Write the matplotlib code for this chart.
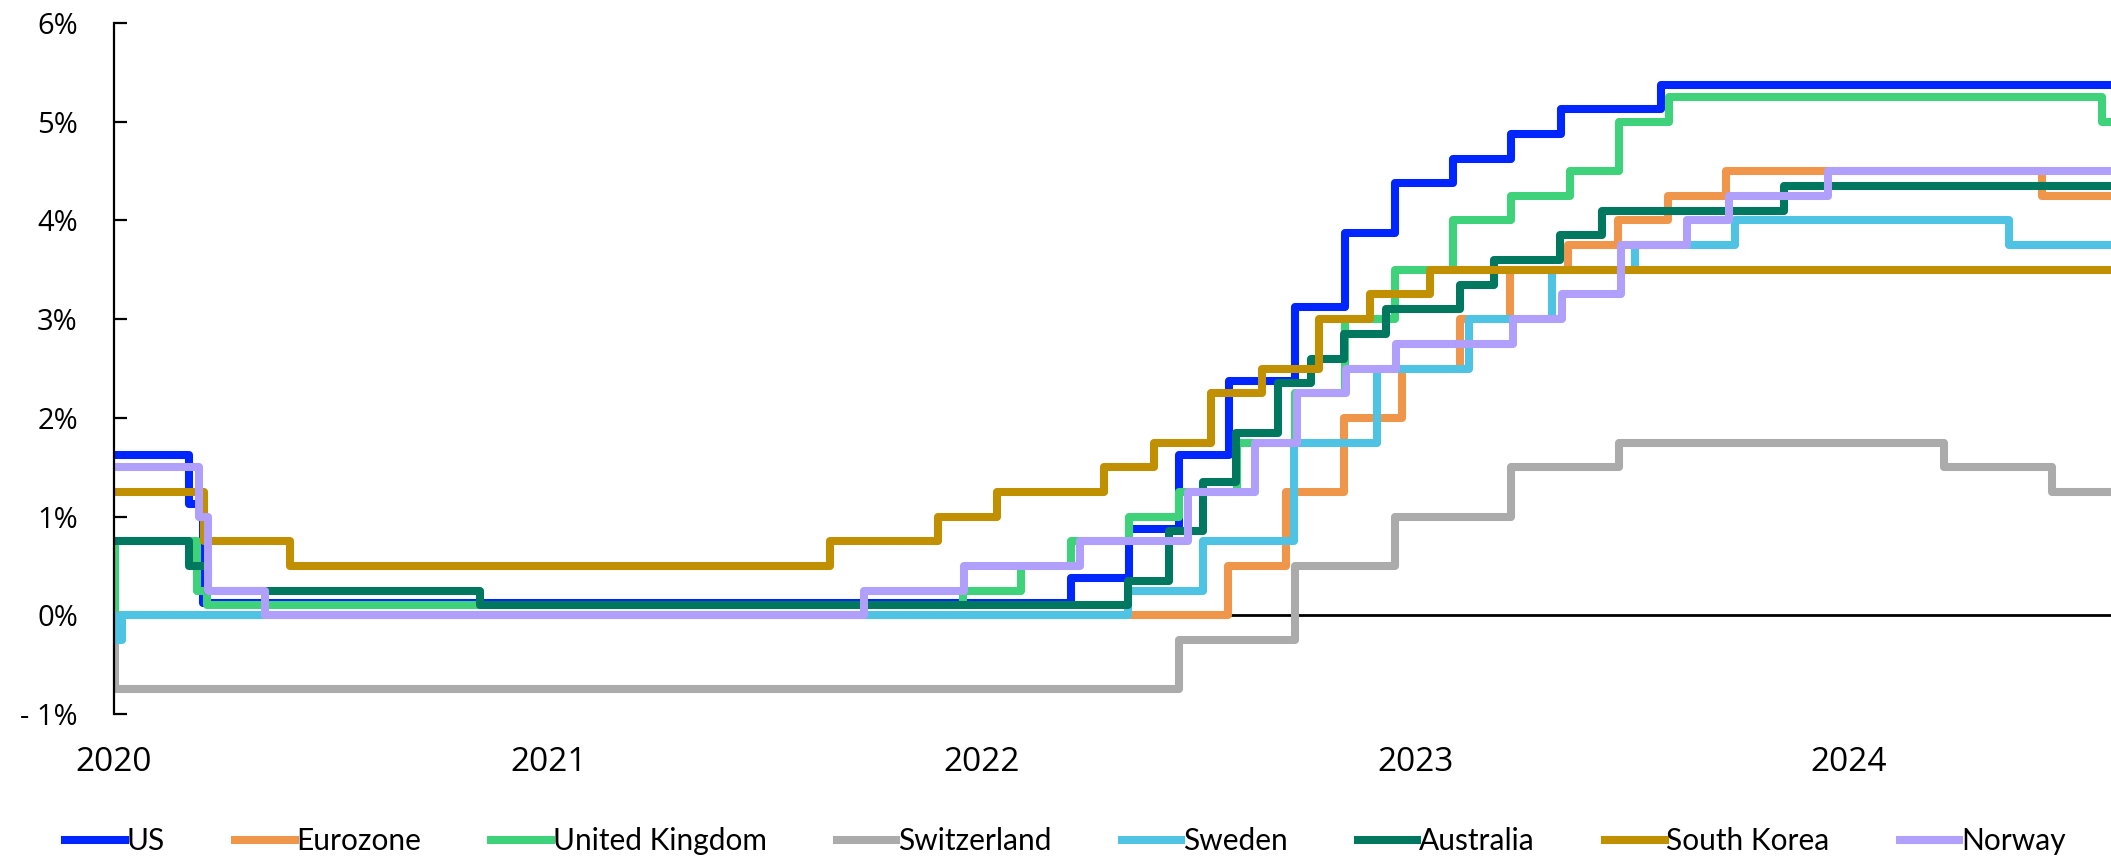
import matplotlib
matplotlib.use("Agg")
import matplotlib.pyplot as plt
from matplotlib.ticker import FuncFormatter, FixedLocator
import numpy as np
import pandas as pd

# Policy rates (%) at each change date; each rate holds until the next date
us_dates = ["2020-01-01", "2020-03-04", "2020-03-16", "2022-03-17", "2022-05-05",
            "2022-06-16", "2022-07-28", "2022-09-22", "2022-11-03", "2022-12-15",
            "2023-02-02", "2023-03-23", "2023-05-04", "2023-07-27"]
us_rates = [1.625, 1.125, 0.125, 0.375, 0.875, 1.625, 2.375, 3.125, 3.875, 4.375,
            4.625, 4.875, 5.125, 5.375]

ez_dates = ["2020-01-01", "2022-07-27", "2022-09-14", "2022-11-02", "2022-12-21",
            "2023-02-08", "2023-03-22", "2023-05-10", "2023-06-21", "2023-08-02",
            "2023-09-20", "2024-06-12"]
ez_rates = [0.0, 0.5, 1.25, 2.0, 2.5, 3.0, 3.5, 3.75, 4.0, 4.25, 4.5, 4.25]

uk_dates = ["2020-01-01", "2020-01-02", "2020-03-11", "2020-03-19", "2021-12-16",
            "2022-02-03", "2022-03-17", "2022-05-05", "2022-06-16", "2022-08-04",
            "2022-09-22", "2022-11-03", "2022-12-15", "2023-02-02", "2023-03-23",
            "2023-05-11", "2023-06-22", "2023-08-03", "2024-08-01"]
uk_rates = [0.0, 0.75, 0.25, 0.10, 0.25, 0.5, 0.75, 1.0, 1.25, 1.75, 2.25, 3.0, 3.5,
            4.0, 4.25, 4.5, 5.0, 5.25, 5.0]

ch_dates = ["2020-01-01", "2020-01-02", "2022-06-16", "2022-09-22", "2022-12-15",
            "2023-03-23", "2023-06-22", "2024-03-21", "2024-06-20"]
ch_rates = [0.0, -0.75, -0.25, 0.5, 1.0, 1.5, 1.75, 1.5, 1.25]

se_dates = ["2020-01-01", "2020-01-02", "2020-01-08", "2022-05-04", "2022-07-06",
            "2022-09-21", "2022-11-30", "2023-02-15", "2023-04-26", "2023-07-05",
            "2023-09-27", "2024-05-15"]
se_rates = [0.0, -0.25, 0.0, 0.25, 0.75, 1.75, 2.5, 3.0, 3.5, 3.75, 4.0, 3.75]

au_dates = ["2020-01-01", "2020-03-04", "2020-03-20", "2020-11-04", "2022-05-04",
            "2022-06-08", "2022-07-06", "2022-08-03", "2022-09-07", "2022-10-05",
            "2022-11-02", "2022-12-07", "2023-02-08", "2023-03-08", "2023-05-03",
            "2023-06-07", "2023-11-08"]
au_rates = [0.75, 0.5, 0.25, 0.10, 0.35, 0.85, 1.35, 1.85, 2.35, 2.60, 2.85, 3.10,
            3.35, 3.60, 3.85, 4.10, 4.35]

kr_dates = ["2020-01-01", "2020-03-17", "2020-05-28", "2021-08-26", "2021-11-25",
            "2022-01-14", "2022-04-14", "2022-05-26", "2022-07-13", "2022-08-25",
            "2022-10-12", "2022-11-24", "2023-01-13"]
kr_rates = [1.25, 0.75, 0.5, 0.75, 1.0, 1.25, 1.5, 1.75, 2.25, 2.5, 3.0, 3.25, 3.5]

no_dates = ["2020-01-01", "2020-03-13", "2020-03-20", "2020-05-07", "2021-09-24",
            "2021-12-17", "2022-03-25", "2022-06-24", "2022-08-19", "2022-09-23",
            "2022-11-04", "2022-12-16", "2023-03-24", "2023-05-05", "2023-06-23",
            "2023-08-18", "2023-09-22", "2023-12-15"]
no_rates = [1.5, 1.0, 0.25, 0.0, 0.25, 0.5, 0.75, 1.25, 1.75, 2.25, 2.5, 2.75, 3.0,
            3.25, 3.75, 4.0, 4.25, 4.5]

countries = ["US", "Eurozone", "United Kingdom", "Switzerland", "Sweden",
             "Australia", "South Korea", "Norway"]
colors = ["#0026FF", "#F0964B", "#3ED37A", "#ABABAB", "#4FC3E3", "#00785F",
          "#C09000", "#B0A0FC"]

start = pd.Timestamp("2020-01-01")
end = pd.Timestamp("2024-08-09")
year_ticks = ["2020", "2021", "2022", "2023", "2024"]

fig = plt.figure(figsize=(21.11, 8.56), dpi=100)
ax = fig.add_axes([0.054, 0.166, 0.946, 0.807])

series = [(us_dates, us_rates), (ez_dates, ez_rates), (uk_dates, uk_rates),
          (ch_dates, ch_rates), (se_dates, se_rates), (au_dates, au_rates),
          (kr_dates, kr_rates), (no_dates, no_rates)]

ax.axhline(0, color="black", lw=2, zorder=1)

for (d, r), name, c in zip(series, countries, colors):
    x = pd.to_datetime(d + [str(end.date())])
    y = r + [r[-1]]
    ax.plot(x, y, drawstyle="steps-post", color=c, lw=5.8, label=name,
            solid_joinstyle="round", zorder=2)

ax.set_xlim(start, end)
ax.set_ylim(-1, 6)

for s in ["top", "right", "bottom"]:
    ax.spines[s].set_visible(False)
ax.spines["left"].set_linewidth(1.6)

ax.yaxis.set_major_locator(FixedLocator(np.arange(-1, 7)))
ax.yaxis.set_major_formatter(FuncFormatter(
    lambda v, _: f"- {abs(v):.0f}%" if v < 0 else f"{v:.0f}%"))
ax.tick_params(axis="y", direction="in", length=9, width=1.6, pad=26,
               labelsize=21)

ax.set_xticks([pd.Timestamp(f"{y}-01-01") for y in year_ticks])
ax.set_xticklabels(year_ticks)
ax.tick_params(axis="x", length=0, pad=23, labelsize=24)

for lab in ax.get_xticklabels() + ax.get_yticklabels():
    lab.set_family(["Open Sans", "DejaVu Sans"])

leg = fig.legend(loc="center left", bbox_to_anchor=(0.031, 0.017), ncol=8,
                 frameon=False, handlelength=2.0, handletextpad=0.05,
                 columnspacing=2.35, borderpad=0, borderaxespad=0,
                 prop={"family": ["Lato", "DejaVu Sans"], "size": 21.5})
for h in leg.get_lines():
    h.set_linewidth(5.8)

fig.savefig("out.png", dpi=100)
